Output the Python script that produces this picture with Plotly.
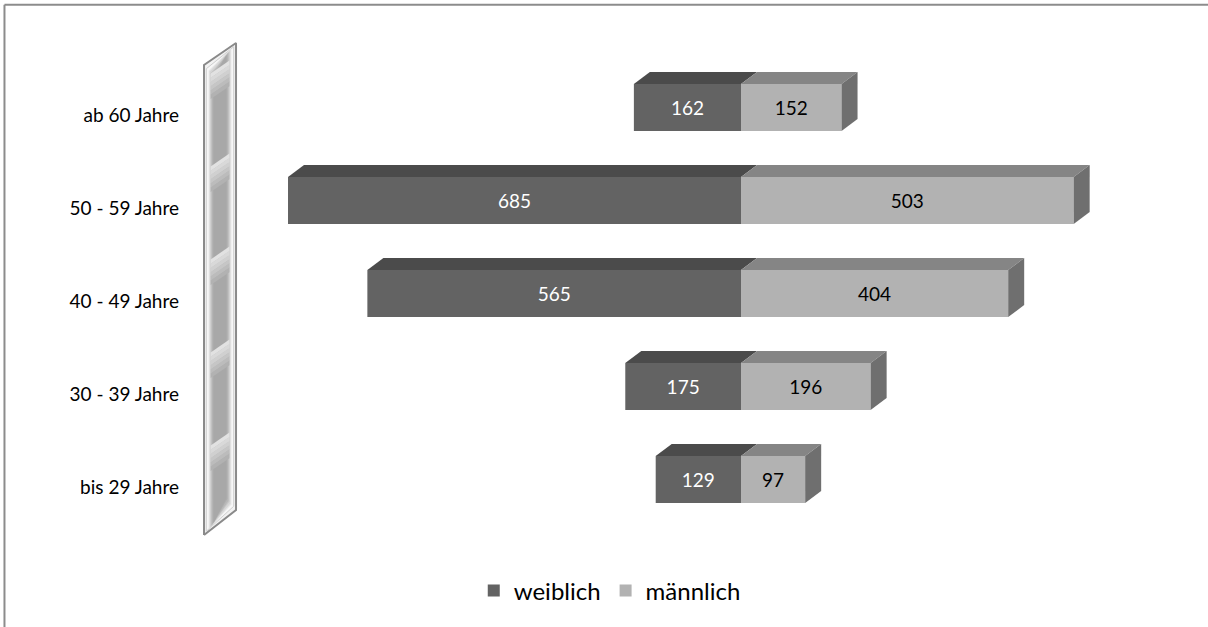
import plotly.graph_objects as go

# Age groups and head counts by gender
categories = ["bis 29 Jahre", "30 - 39 Jahre", "40 - 49 Jahre", "50 - 59 Jahre", "ab 60 Jahre"]
weiblich = [129, 175, 565, 685, 162]
maennlich = [97, 196, 404, 503, 152]

# Colours
F_FRONT, F_TOP = "#636363", "#4b4b4b"
M_FRONT, M_TOP, M_SIDE = "#b2b2b2", "#858585", "#6f6f6f"
FONT = "Lato"

# Bar geometry in axis units (3D extrusion offsets)
BAR_W = 0.505
BAR_OFF = -0.172
DX, DY = 24.2, 0.129

ypos = list(range(len(categories)))

fig = go.Figure()

# Front faces
fig.add_trace(go.Bar(
    y=ypos, x=[-v for v in weiblich], orientation="h", name="weiblich",
    width=BAR_W, offset=BAR_OFF, marker=dict(color=F_FRONT, line=dict(width=0)),
    text=[str(v) for v in weiblich], textposition="inside", insidetextanchor="middle",
    textfont=dict(color="white", size=19, family=FONT), hoverinfo="skip",
))
fig.add_trace(go.Bar(
    y=ypos, x=maennlich, orientation="h", name="männlich",
    width=BAR_W, offset=BAR_OFF, marker=dict(color=M_FRONT, line=dict(width=0)),
    text=[str(v) for v in maennlich], textposition="inside", insidetextanchor="middle",
    textfont=dict(color="black", size=19, family=FONT), hoverinfo="skip",
))


def poly(xs, ys, color):
    fig.add_trace(go.Scatter(
        x=xs + [xs[0]], y=ys + [ys[0]], mode="lines", fill="toself",
        fillcolor=color, line=dict(width=0, color=color),
        showlegend=False, hoverinfo="skip",
    ))


# Top and side faces computed from the same values
for y, w, m in zip(ypos, weiblich, maennlich):
    top = y + BAR_OFF + BAR_W
    bot = y + BAR_OFF
    poly([-w, 0, DX, -w + DX], [top, top, top + DY, top + DY], F_TOP)
    poly([0, m, m + DX, DX], [top, top, top + DY, top + DY], M_TOP)
    poly([m, m + DX, m + DX, m], [bot, bot + DY, top + DY, top], M_SIDE)

# Axis wall (decorative slab left of the bars)
WX0, WX1 = -812.0, -763.6
WL0, WL1 = -0.516, 4.538   # left edge bottom/top
WR0, WR1 = -0.247, 4.774   # right edge bottom/top
SLANT = (WR1 - WL1)


def wall_layer(inset_x, inset_y, fill, line_color=None, lw=0):
    xs = [WX0 + inset_x, WX1 - inset_x, WX1 - inset_x, WX0 + inset_x, WX0 + inset_x]
    ys = [WL0 + inset_y, WR0 + inset_y, WR1 - inset_y, WL1 - inset_y, WL0 + inset_y]
    fig.add_trace(go.Scatter(
        x=xs, y=ys, mode="lines", fill="toself", fillcolor=fill,
        line=dict(width=lw, color=line_color or fill),
        showlegend=False, hoverinfo="skip",
    ))


def wall_band(y_left_top, height, inset_x, fill):
    # slanted highlight band across the inner wall face
    x0, x1 = WX0 + inset_x, WX1 - inset_x
    frac0 = inset_x / (WX1 - WX0)
    frac1 = 1 - frac0
    yl = y_left_top + SLANT * frac0
    yr = y_left_top + SLANT * frac1
    fig.add_trace(go.Scatter(
        x=[x0, x1, x1, x0, x0], y=[yl, yr, yr - height, yl - height, yl],
        mode="lines", fill="toself", fillcolor=fill, line=dict(width=0, color=fill),
        showlegend=False, hoverinfo="skip",
    ))


wall_layer(0, 0, "#f2f2f2", "#8a8a8a", 2)
wall_layer(3.5, 0.04, "#f7f7f7", "#cfcfcf", 1)
wall_layer(7, 0.06, "#e6e6e6")
wall_layer(8.5, 0.07, "#d6d6d6")
wall_layer(10, 0.09, "#c6c6c6")
wall_layer(11.5, 0.10, "#b8b8b8")
wall_layer(13, 0.12, "#adadad")
wall_layer(14.5, 0.13, "#a8a8a8")

# soft light gradient just below each segment boundary
band_shades = ["#e2e2e2", "#d9d9d9", "#d0d0d0", "#c6c6c6", "#bcbcbc", "#b2b2b2"]
for k in range(len(categories)):
    yb = WL1 - 0.14 - k * 1.0
    for i, shade in enumerate(band_shades):
        wall_band(yb - i * 0.045, 0.05, 10.0, shade)

fig.update_layout(
    width=1208, height=627,
    margin=dict(l=190, r=28, t=20, b=70),
    paper_bgcolor="white", plot_bgcolor="white",
    barmode="overlay",
    font=dict(family=FONT, size=19, color="black"),
    xaxis=dict(range=[-833.2, 663.8], visible=False, fixedrange=True),
    yaxis=dict(
        range=[-0.7527, 5.0215], tickvals=ypos, ticktext=categories,
        showgrid=False, zeroline=False, showline=False, ticks="",
        ticklabelstandoff=10, tickfont=dict(size=19, family=FONT, color="black"),
        fixedrange=True,
    ),
    legend=dict(
        orientation="h", x=0.424, xanchor="center", y=-0.063, yanchor="middle",
        font=dict(size=24, family=FONT), itemsizing="constant",
        bgcolor="rgba(0,0,0,0)",
    ),
    showlegend=True,
    shapes=[
        dict(type="line", xref="paper", yref="paper", x0=-0.1874, x1=1.03,
             y0=1.0283, y1=1.0283, line=dict(color="#8c8c8c", width=2)),
        dict(type="line", xref="paper", yref="paper", x0=-0.1874, x1=-0.1874,
             y0=1.0283, y1=-0.14, line=dict(color="#8c8c8c", width=2)),
    ],
)

fig.write_html("out.html")
